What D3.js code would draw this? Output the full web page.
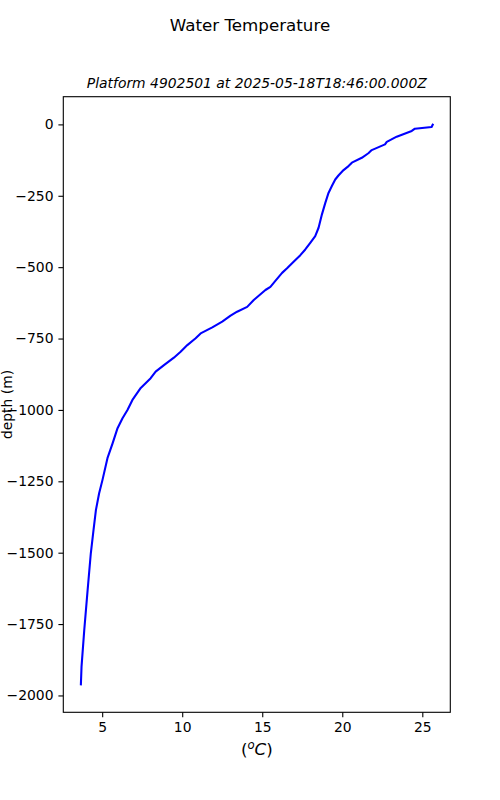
<!DOCTYPE html>
<html lang="en">
<head>
    <meta charset="UTF-8">
    <title>Water Temperature</title>
    <script src="https://d3js.org/d3.v7.min.js"></script>
    <style>
        body { margin: 0; background: #fff; }
        svg { font-family: "DejaVu Sans", sans-serif; }
        .tick text { font-size: 13.9px; fill: #000; }
    </style>
</head>
<body>
<script>
    // profile: temperature (degC) vs depth (m)
    const temperature = [25.65, 25.58, 24.54, 24.34, 23.40, 22.78, 22.67, 21.84, 21.63, 21.22,
        20.60, 20.39, 20.08, 19.76, 19.56, 19.35, 19.14, 18.94, 18.73, 18.52,
        18.31, 18.00, 17.69, 17.38, 16.96, 16.55, 16.24, 15.82, 15.51, 15.20,
        14.89, 14.47, 14.06, 13.43, 13.02, 12.50, 11.88, 11.15, 10.84, 10.32,
        9.90, 9.48, 8.86, 8.34, 8.03, 7.41, 6.89, 6.58, 6.27, 5.96,
        5.65, 5.33, 5.02, 4.81, 4.61, 4.46, 4.29, 4.09, 3.88, 3.71, 3.67];
    const depth = [-1, -9, -15, -23, -43, -61, -70, -90, -101, -117,
        -134, -146, -160, -179, -193, -216, -240, -275, -315, -362,
        -391, -415, -438, -458, -481, -504, -520, -548, -569, -580,
        -595, -615, -639, -656, -670, -691, -711, -732, -749, -773,
        -796, -817, -843, -866, -889, -923, -965, -1000, -1029, -1064,
        -1117, -1169, -1245, -1292, -1350, -1420, -1502, -1631, -1771, -1899, -1961];
    const xTicks = [5, 10, 15, 20, 25];
    const yTicks = [0, -250, -500, -750, -1000, -1250, -1500, -1750, -2000];

    const width = 500, height = 800;
    const margin = {left: 63.3, right: 49.7, top: 96.7, bottom: 87.7};

    const svg = d3.select("body").append("svg")
        .attr("width", width)
        .attr("height", height);

    // matplotlib style 5% padding on the data range
    function padded(ext) {
        const p = (ext[1] - ext[0]) * 0.05;
        return [ext[0] - p, ext[1] + p];
    }

    const x = d3.scaleLinear()
        .domain(padded(d3.extent(temperature)))
        .range([margin.left, width - margin.right]);
    const y = d3.scaleLinear()
        .domain(padded(d3.extent(depth)))
        .range([height - margin.bottom, margin.top]);

    const fmt = d => d < 0 ? "\u2212" + Math.abs(d) : String(d);

    const xAxis = svg.append("g")
        .attr("transform", `translate(0,${height - margin.bottom})`)
        .call(d3.axisBottom(x).tickValues(xTicks).tickFormat(fmt)
            .tickSize(4.9).tickPadding(4.9).tickSizeOuter(0));
    const yAxis = svg.append("g")
        .attr("transform", `translate(${margin.left},0)`)
        .call(d3.axisLeft(y).tickValues(yTicks).tickFormat(fmt)
            .tickSize(4.9).tickPadding(4.9).tickSizeOuter(0));

    [xAxis, yAxis].forEach(a => {
        a.select(".domain").remove();
        a.selectAll(".tick line").attr("stroke", "#000").attr("stroke-width", 1.1);
        a.attr("font-family", null).attr("font-size", null);
    });

    // the line
    const pts = temperature.map((t, i) => [t, depth[i]]);
    svg.append("path")
        .datum(pts)
        .attr("fill", "none")
        .attr("stroke", "#0000ff")
        .attr("stroke-width", 2.08)
        .attr("stroke-linejoin", "round")
        .attr("stroke-linecap", "square")
        .attr("d", d3.line().x(d => x(d[0])).y(d => y(d[1])));

    // frame
    svg.append("rect")
        .attr("x", margin.left)
        .attr("y", margin.top)
        .attr("width", width - margin.left - margin.right)
        .attr("height", height - margin.top - margin.bottom)
        .attr("fill", "none")
        .attr("stroke", "#000")
        .attr("stroke-width", 1.1);

    // titles
    svg.append("text")
        .attr("x", width / 2)
        .attr("y", 30.5)
        .attr("text-anchor", "middle")
        .attr("font-size", 16.7)
        .text("Water Temperature");

    svg.append("text")
        .attr("x", (margin.left + width - margin.right) / 2)
        .attr("y", 88.3)
        .attr("text-anchor", "middle")
        .attr("font-size", 13.9)
        .attr("font-style", "italic")
        .text("Platform 4902501 at 2025-05-18T18:46:00.000Z");

    // x label: (°C) with italic C and superscript o
    const xl = svg.append("text")
        .attr("x", (margin.left + width - margin.right) / 2)
        .attr("y", 755)
        .attr("text-anchor", "middle")
        .attr("font-size", 16.7);
    xl.append("tspan").text("(");
    xl.append("tspan").attr("font-style", "italic").attr("font-size", 11.7).attr("dy", -6).text("o");
    xl.append("tspan").attr("font-style", "italic").attr("dy", 6).text("C");
    xl.append("tspan").text(")");

    svg.append("text")
        .attr("transform", `translate(11.5,${(margin.top + height - margin.bottom) / 2}) rotate(-90)`)
        .attr("text-anchor", "middle")
        .attr("font-size", 13.9)
        .text("depth (m)");
</script>
</body>
</html>
